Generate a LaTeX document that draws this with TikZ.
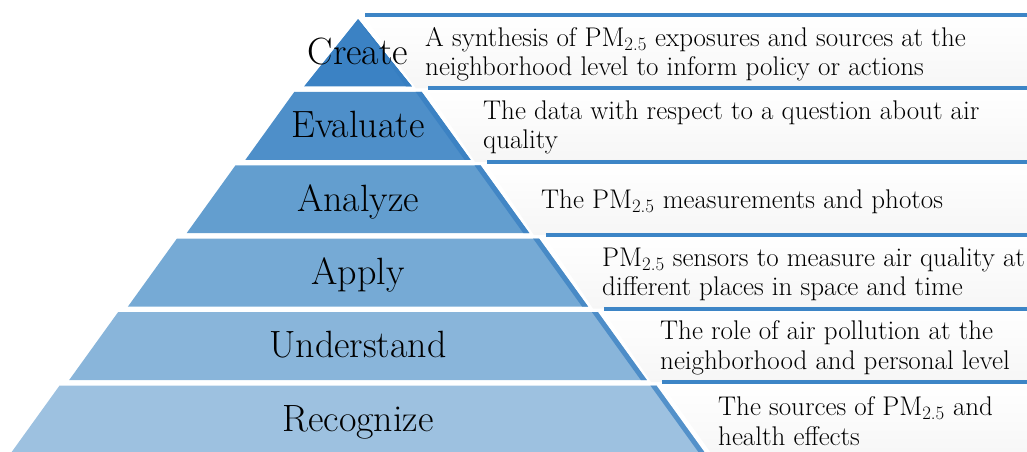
\documentclass[tikz,border=0pt]{standalone}
\definecolor{createblue}{RGB}{59,130,196}
\definecolor{evalblue}{RGB}{78,143,201}
\definecolor{analyzeblue}{RGB}{99,158,207}
\definecolor{applyblue}{RGB}{118,170,213}
\definecolor{underblue}{RGB}{137,181,218}
\definecolor{recogblue}{RGB}{157,193,224}
\definecolor{lineblue}{RGB}{61,133,198}
\definecolor{edgeblue}{RGB}{52,124,192}
\newcommand{\pmtf}{PM\textsubscript{2.5}}
\tikzset{
band/.style={fill=#1}, % one layer of the pyramid
strip/.style={fill=edgeblue!70!#1}, % darker rim on the right slope
textbox/.style={top color=white, bottom color=gray!7}, % box behind a description
topline/.style={draw=lineblue, line width=4pt}, % blue rule above each box
level/.style={anchor=base, inner sep=0pt, font=\fontsize{38}{42}\selectfont}, % pyramid labels
desc/.style={anchor=west, inner sep=0pt, align=left, font=\fontsize{27}{29.5}\selectfont}, % descriptions
}

\begin{document}
\begin{tikzpicture}[x=1pt, y=-1pt]
  \useasboundingbox (0,0) rectangle (1027,451);
  \clip (0,0) rectangle (1027,451);

  % Boxes
  \shade[textbox] (363,15) -- (1030,15) -- (1030,88.4) -- (416,88.4) -- cycle;
  \shade[textbox] (426,88.4) -- (1030,88.4) -- (1030,161.8) -- (475,161.8) -- cycle;
  \shade[textbox] (485,161.8) -- (1030,161.8) -- (1030,235.2) -- (534,235.2) -- cycle;
  \shade[textbox] (544,235.2) -- (1030,235.2) -- (1030,308.6) -- (593,308.6) -- cycle;
  \shade[textbox] (602,308.6) -- (1030,308.6) -- (1030,382) -- (651,382) -- cycle;
  \shade[textbox] (660,382) -- (1030,382) -- (1030,460) -- (716,460) -- cycle;

  \draw[topline] (365,15) -- (1030,15);
  \draw[topline] (428,88.4) -- (1030,88.4);
  \draw[topline] (487,161.8) -- (1030,161.8);
  \draw[topline] (546,235.2) -- (1030,235.2);
  \draw[topline] (604,308.6) -- (1030,308.6);
  \draw[topline] (662,382) -- (1030,382);

  % Layers
  \fill[band=createblue] (358,19) -- (411.9,86.4) -- (304.1,86.4) -- cycle;
  \fill[strip=createblue] (358,19) -- (411.9,86.4) -- (405.9,86.4) -- cycle;
  \fill[band=evalblue] (294.3,91.9) -- (421.7,91.9) -- (470.6,159.8) -- (245.4,159.8) -- cycle;
  \fill[strip=evalblue] (415.7,91.9) -- (421.7,91.9) -- (470.6,159.8) -- (464.6,159.8) -- cycle;
  \fill[band=analyzeblue] (235.5,165.3) -- (480.5,165.3) -- (529.4,233.2) -- (186.6,233.2) -- cycle;
  \fill[strip=analyzeblue] (474.5,165.3) -- (480.5,165.3) -- (529.4,233.2) -- (523.4,233.2) -- cycle;
  \fill[band=applyblue] (176.8,238.7) -- (539.2,238.7) -- (588.1,306.6) -- (127.9,306.6) -- cycle;
  \fill[strip=applyblue] (533.2,238.7) -- (539.2,238.7) -- (588.1,306.6) -- (582.1,306.6) -- cycle;
  \fill[band=underblue] (118.1,312.1) -- (597.9,312.1) -- (646.8,380) -- (69.2,380) -- cycle;
  \fill[strip=underblue] (591.9,312.1) -- (597.9,312.1) -- (646.8,380) -- (640.8,380) -- cycle;
  \fill[band=recogblue] (59.6,385.5) -- (656.4,385.5) -- (710.1,460) -- (5.9,460) -- cycle;
  \fill[strip=recogblue] (650.4,385.5) -- (656.4,385.5) -- (710.1,460) -- (704.1,460) -- cycle;

  % Labels
  \node[level] (lc) at (358,64.2) {Create};
  \node[level] (le) at (358,137.6) {Evaluate};
  \node[level] (la) at (358,211) {Analyze};
  \node[level] (lp) at (358,284.4) {Apply};
  \node[level] (lu) at (358,357.8) {Understand};
  \node[level] (lr) at (358,431.2) {Recognize};

  % Descriptions
  \node[desc] (tc) at (425,54.2) {A synthesis of \pmtf{} exposures and sources at the\\neighborhood level to inform policy or actions};
  \node[desc] (te) at (483,127.6) {The data with respect to a question about air\\quality};
  \node[desc] (ta) at (541,201.5) {The \pmtf{} measurements and photos};
  \node[desc] (tp) at (602,274.4) {\pmtf{} sensors to measure air quality at\\different places in space and time};
  \node[desc] (tu) at (660,347.8) {The role of air pollution at the\\neighborhood and personal level};
  \node[desc] (tr) at (718,421.2) {The sources of \pmtf{} and\\health effects};
\end{tikzpicture}
\end{document}
